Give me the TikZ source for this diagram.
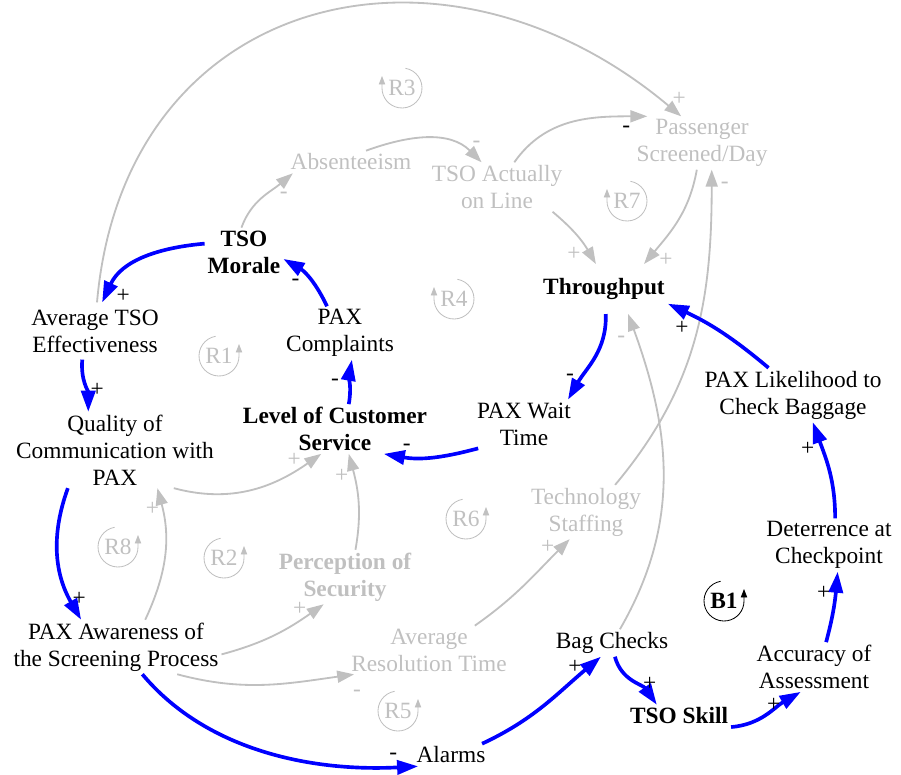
\documentclass[tikz,border=0pt]{standalone}
\usepackage{fontspec}
\setmainfont{Liberation Serif}
\usepackage{xcolor}
\usetikzlibrary{arrows.meta}

\definecolor{faded}{RGB}{192,192,192}
\newcommand{\vfont}{\fontsize{16.6}{19.1}\selectfont}

% loop tags: arrow on the left / on the right
\newcommand{\looptagL}[4]{%
  \node[text=#4, inner sep=0pt] (#1) at (#2) {#3};
  \draw[#4, line width=0.6pt, -{Triangle[length=6pt,width=4.5pt]}]
    (#1.center) ++(80:20) arc[start angle=80, end angle=-180, radius=20] -- ++(0,12);
}
\newcommand{\looptagR}[4]{%
  \node[text=#4, inner sep=0pt] (#1) at (#2) {#3};
  \draw[#4, line width=0.6pt, -{Triangle[length=6pt,width=4.5pt]}]
    (#1.center) ++(100:20) arc[start angle=100, end angle=360, radius=20] -- ++(0,12);
}

\begin{document}
\begin{tikzpicture}[x=0.025cm, y=0.025cm, font=\vfont,
    var/.style={align=center, inner sep=2pt},
    keyvar/.style={var, font=\vfont\bfseries},
    dimvar/.style={var, text=faded},
    link/.style={draw=faded, line width=1.3pt, -{Triangle[length=12pt,width=8.5pt]}},
    mainlink/.style={draw=blue, line width=2.6pt, -{Triangle[length=15pt,width=10pt]}},
    sg/.style={inner sep=0pt, pos=1},
    dimsg/.style={sg, text=faded}]
    \useasboundingbox (0,0) rectangle (901,-775);

    % variables
    \node[dimvar] (absent) at (351,-162) {Absenteeism};
    \node[dimvar] (tsoline) at (497,-187) {TSO Actually\\on Line};
    \node[dimvar] (psd) at (702,-143) {Passenger\\Screened/Day};
    \node[keyvar] (morale) at (244,-252) {TSO\\Morale};
    \node[keyvar, inner ysep=10pt] (thru) at (604,-289) {Throughput};
    \node[var, inner ysep=5pt] (aveff) at (95,-331) {Average TSO\\Effectiveness};
    \node[var] (complaints) at (340,-333) {PAX\\Complaints};
    \node[keyvar] (lcs) at (335,-429) {Level of Customer\\Service};
    \node[var] (wait) at (524,-424) {PAX Wait\\Time};
    \node[var] (likeli) at (793,-395) {PAX Likelihood to\\Check Baggage};
    \node[var] (qual) at (115,-450) {Quality of\\Communication with\\PAX};
    \node[dimvar] (tech) at (586,-512) {Technology\\Staffing};
    \node[var] (deter) at (829,-545) {Deterrence at\\Checkpoint};
    \node[keyvar, text=faded] (percep) at (345,-577) {Perception of\\Security};
    \node[var] (aware) at (116,-647) {PAX Awareness of\\the Screening Process};
    \node[dimvar] (resol) at (429,-650) {Average\\Resolution Time};
    \node[var] (bag) at (612,-643) {Bag Checks};
    \node[var] (accur) at (814,-667) {Accuracy of\\Assessment};
    \node[keyvar] (skill) at (679,-716) {TSO Skill};
    \node[var] (alarms) at (451,-755) {Alarms};

    % loops
    \looptagL{r3}{402,-88}{R3}{faded}
    \looptagL{r7}{627,-201}{R7}{faded}
    \looptagL{r4}{454,-299}{R4}{faded}
    \looptagR{r1}{219,-356}{R1}{faded}
    \looptagR{r8}{118,-547}{R8}{faded}
    \looptagR{r2}{224,-558}{R2}{faded}
    \looptagR{r6}{466,-519}{R6}{faded}
    \looptagR{r5}{398,-711}{R5}{faded}
    \looptagR{b1}{724,-601}{\bfseries B1}{black}

    % faded links
    \draw[link] (aveff.86) to[out=85,in=140,looseness=1.3] node[dimsg,shift={(-2,17)}]{+} (psd.128);
    \draw[link] (morale.96) to[out=70,in=220] node[dimsg,shift={(-9,-22)}]{-} (absent.191);
    \draw[link] (absent.37) to[out=20,in=135] node[dimsg,shift={(-5,18)}]{-} (tsoline.122);
    \draw[link] (tsoline.55) to[out=55,in=180] node[sg,shift={(-21,-13)}]{-} (psd.154);
    \draw[link] (tsoline.-24) to[out=-40,in=120] node[dimsg,shift={(-22,10)}]{+} (thru.108);
    \draw[link] (psd.259) to[out=-100,in=50] node[dimsg,shift={(22,4)}]{+} (thru.32);
    \draw[link] (tech.43) to[out=50,in=-90] node[dimsg,shift={(13,-16)}]{-} (psd.-70);
    \draw[link] (bag.60) to[out=60,in=-70] node[dimsg,shift={(-7,-25)}]{-} (thru.-46);
    \draw[link] (qual.-33) to[out=-15,in=215] node[dimsg,shift={(-27,-6)}]{+} (lcs.241);
    \draw[link] (percep.69) to[out=80,in=-75] node[dimsg,shift={(-7,-22)}]{+} (lcs.-61);
    \draw[link] (aware.43) to[out=65,in=-75] node[dimsg,shift={(-5,-21)}]{+} (qual.-42);
    \draw[link] (aware.-4) to[out=15,in=215] node[dimsg,shift={(-24,-5)}]{+} (percep.232);
    \draw[link] (aware.-24) to[out=-15,in=188] node[dimsg,shift={(3,-19)}]{-} (resol.198);
    \draw[link] (resol.28) to[out=35,in=225] node[dimsg,shift={(-22,-8)}]{+} (tech.239);

    % main loop links
    \draw[mainlink] (morale.168) to[out=185,in=65] node[sg,shift={(21,7)}]{+} (aveff.76);
    \draw[mainlink] (complaints.116) to[out=115,in=-30] node[sg,shift={(12,-23)}]{-} (morale.-10);
    \draw[mainlink] (lcs.61) to[out=80,in=-100] node[sg,shift={(-17,-23)}]{-} (complaints.-66);
    \draw[mainlink] (wait.208) to[out=195,in=-10] node[sg,shift={(23,7)}]{-} (lcs.-27);
    \draw[mainlink] (thru.-86) to[out=-88,in=60] node[sg,shift={(2,22)}]{-} (wait.29);
    \draw[mainlink] (likeli.132) to[out=140,in=-25] node[sg,shift={(14,-24)}]{+} (thru.-13);
    \draw[mainlink] (deter.77) to[out=90,in=-70] node[sg,shift={(-5,-27)}]{+} (likeli.-54);
    \draw[mainlink] (accur.64) to[out=75,in=-95] node[sg,shift={(-14,-21)}]{+} (deter.-72);
    \draw[mainlink] (skill.-12) to[out=5,in=210] node[sg,shift={(-27,-13)}]{+} (accur.242);
    \draw[mainlink] (bag.-78) to[out=-75,in=125] node[sg,shift={(-7,21)}]{+} (skill.153);
    \draw[mainlink] (alarms.20) to[out=25,in=220] node[sg,shift={(-26,-10)}]{+} (bag.231);
    \draw[mainlink] (aware.-46) to[out=-50,in=183,looseness=0.9] node[sg,shift={(-25,10)}]{-} (alarms.199);
    \draw[mainlink] (aveff.246) to[out=-95,in=90] node[sg,shift={(9,22)}]{+} (qual.125);
    \draw[mainlink] (qual.219) to[out=-110,in=120] node[sg,shift={(-2,21)}]{+} (aware.142);
\end{tikzpicture}
\end{document}
